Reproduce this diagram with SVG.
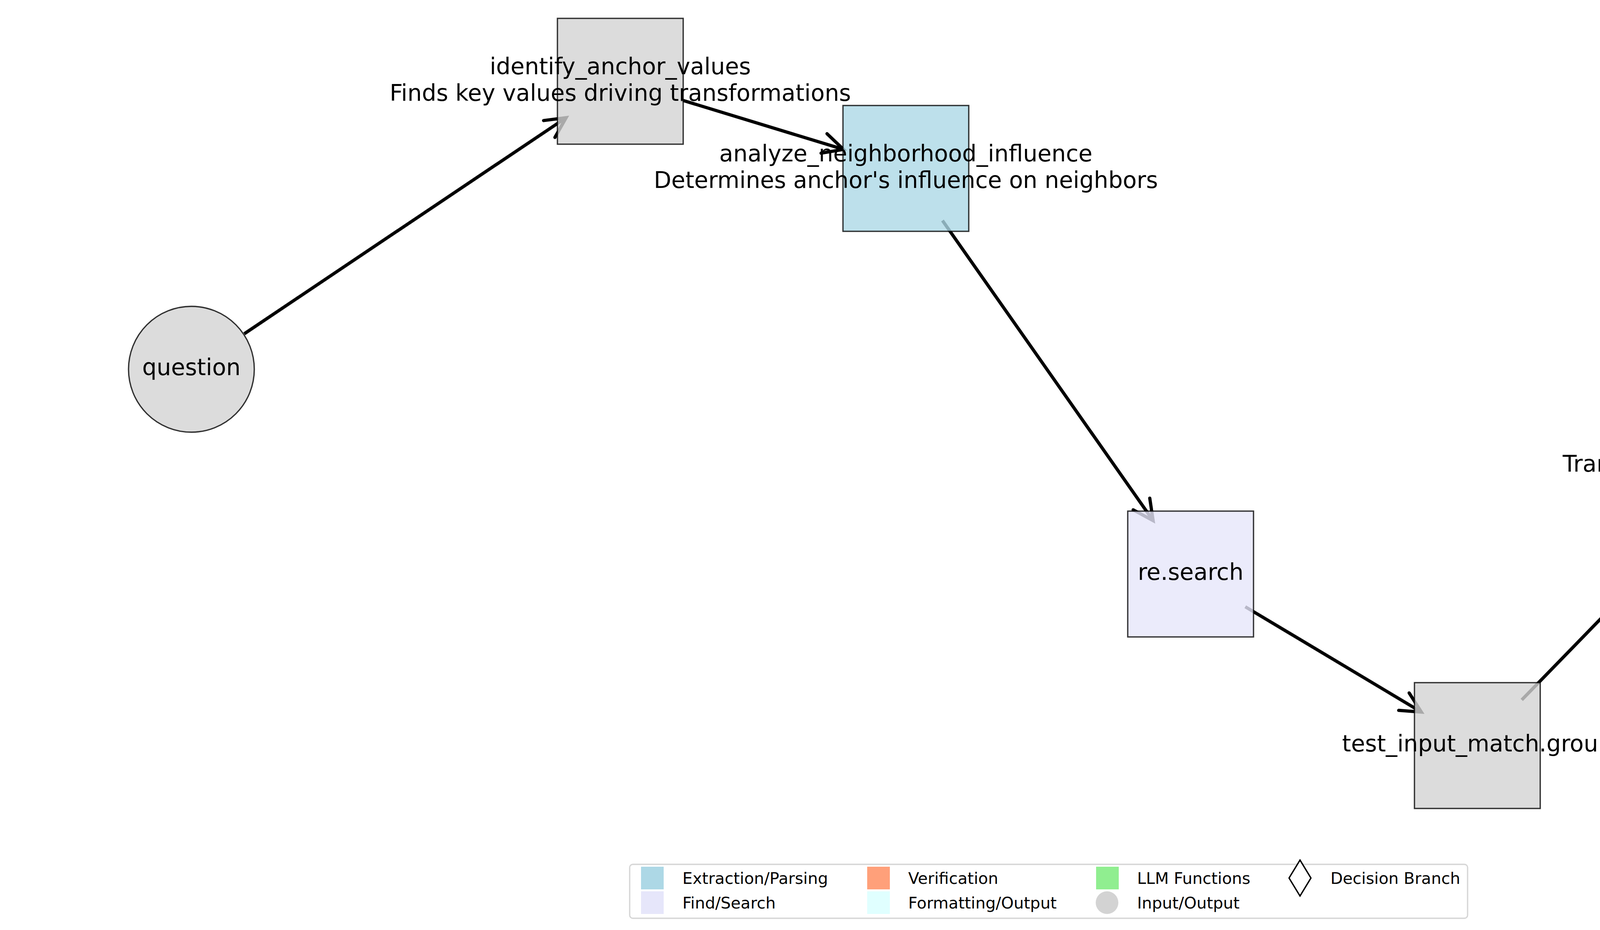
<svg xmlns="http://www.w3.org/2000/svg" width="5370" height="2380" viewBox="0 0 5370 2380">
<style>
text{font-family:"DejaVu Sans","Liberation Sans",sans-serif;fill:#000}
.lbl{font-size:58.3px;text-anchor:middle}
.leg{font-size:41px}
.edge{stroke:#000;stroke-width:8.3;fill:none;stroke-linecap:butt;marker-end:url(#arr)}
.node{stroke:#000;stroke-opacity:0.8;stroke-width:3.3;fill-opacity:0.8}
.gray{fill:#d3d3d3}
.blue{fill:#add8e6}
.lav{fill:#e6e6fa}
</style>
<defs>
<marker id="arr" markerUnits="userSpaceOnUse" orient="auto" refX="0" refY="0" markerWidth="120" markerHeight="120" overflow="visible">
<path d="M-52,-26 L0,0 L-52,26" fill="none" stroke="#000" stroke-width="8.3" stroke-linecap="round" stroke-linejoin="miter"/>
</marker>
</defs>
<rect x="0" y="0" width="5370" height="2380" fill="#fff"/>
<g id="connectors">
<line class="edge" x1="625.3" y1="854.2" x2="1449.3" y2="301.1"/>
<line class="edge" x1="1743.9" y1="255.6" x2="2159.3" y2="382.3"/>
<line class="edge" x1="2412.7" y1="564.4" x2="2952.0" y2="1332.3"/>
<line class="edge" x1="3187.9" y1="1552.7" x2="3638.7" y2="1822.3"/>
<line class="edge" x1="3895.7" y1="1791.2" x2="4396.5" y2="1276.7"/>
<line class="edge" x1="4654.0" y1="1075.3" x2="4734.5" y2="1028.7"/>
</g>
<g id="question">
<circle class="node gray" cx="490" cy="945" r="161"/>
<text class="lbl" x="490" y="960">question</text>
</g>
<g id="identify_anchor_values">
<rect class="node gray" x="1427" y="47" width="322" height="322"/>
<text class="lbl" x="1588" y="190">identify_anchor_values</text>
<text class="lbl" x="1588" y="258">Finds key values driving transformations</text>
</g>
<g id="analyze_neighborhood_influence">
<rect class="node blue" x="2158" y="270" width="322" height="322"/>
<text class="lbl" x="2319" y="413">analyze_neighborhood_influence</text>
<text class="lbl" x="2319" y="481">Determines anchor's influence on neighbors</text>
</g>
<g id="re_search">
<rect class="node lav" x="2887" y="1308" width="322" height="322"/>
<text class="lbl" x="3048" y="1484">re.search</text>
</g>
<g id="test_input_match_group">
<rect class="node gray" x="3621" y="1747" width="322" height="322"/>
<text class="lbl" x="3782" y="1923">test_input_match.group</text>
</g>
<g id="transform_grid">
<rect class="node gray" x="4352" y="996" width="322" height="322"/>
<text class="lbl" x="4513" y="1139">transform_grid</text>
<text class="lbl" x="4513" y="1207">Transforms grid based on influence</text>
</g>
<g id="answer">
<circle class="node gray" cx="4879" cy="945" r="161"/>
<text class="lbl" x="4879" y="960">answer</text>
</g>
<g id="legend">
<rect x="1612" y="2212" width="2145" height="138" rx="8" ry="8" fill="#fff" fill-opacity="0.8" stroke="#ccc" stroke-opacity="0.8" stroke-width="3.3"/>
<rect x="1641" y="2218" width="58" height="58" fill="#add8e6"/>
<text class="leg" x="1747" y="2262">Extraction/Parsing</text>
<rect x="1641" y="2281" width="58" height="58" fill="#e6e6fa"/>
<text class="leg" x="1747" y="2325">Find/Search</text>
<rect x="2220" y="2218" width="58" height="58" fill="#ffa07a"/>
<text class="leg" x="2325" y="2262">Verification</text>
<rect x="2220" y="2281" width="58" height="58" fill="#e0ffff"/>
<text class="leg" x="2325" y="2325">Formatting/Output</text>
<rect x="2806" y="2218" width="58" height="58" fill="#90ee90"/>
<text class="leg" x="2911" y="2262">LLM Functions</text>
<circle cx="2834" cy="2310" r="29" fill="#d3d3d3"/>
<text class="leg" x="2911" y="2325">Input/Output</text>
<polygon points="3328,2201 3356,2247 3328,2293 3300,2247" fill="#fff" stroke="#000" stroke-width="3.5"/>
<text class="leg" x="3406" y="2262">Decision Branch</text>
</g>
</svg>
